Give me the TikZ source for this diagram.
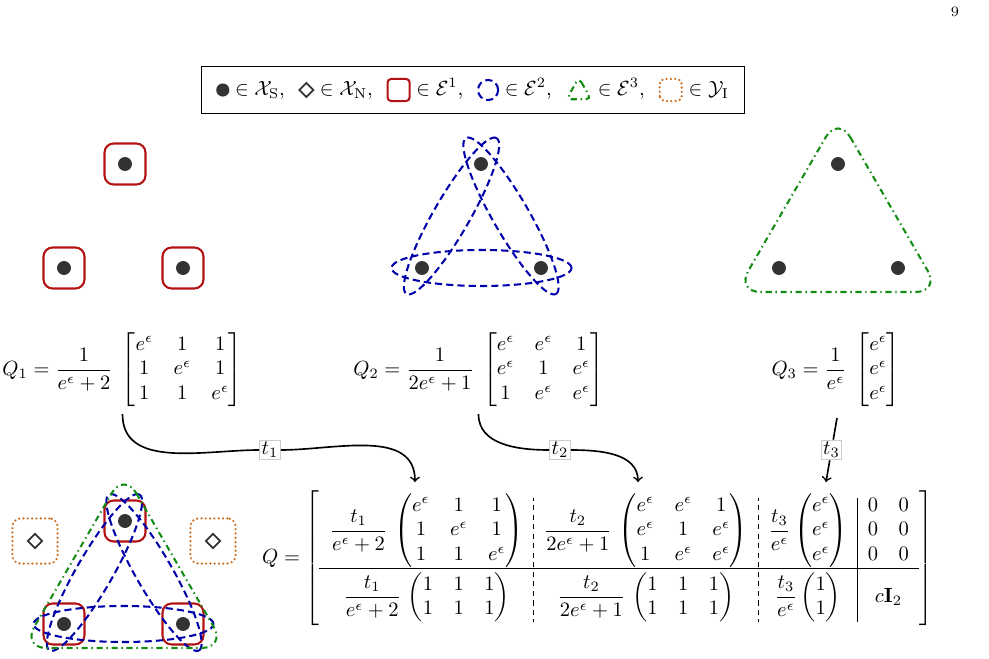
\documentclass[tikz,border=0pt]{standalone}
\usepackage{amsmath}
\usepackage{arydshln}
\usetikzlibrary{shapes.geometric,calc}

\definecolor{edgered}{RGB}{178,18,18}
\definecolor{edgeblue}{RGB}{0,0,170}
\definecolor{edgegreen}{RGB}{20,140,20}
\definecolor{isoorange}{RGB}{204,110,30}
\definecolor{dotgray}{RGB}{51,51,51}

\setlength{\dashlinedash}{2.5pt}
\setlength{\dashlinegap}{2pt}

\tikzset{
  vsens/.style={circle,fill=dotgray,inner sep=0pt,minimum size=6.8pt},
  vnon/.style={diamond,draw=dotgray,line width=0.9pt,inner sep=0pt,minimum size=7.3pt},
  eone/.style={draw=edgered,line width=1pt,rounded corners=4.5pt,minimum size=20pt,inner sep=0pt},
  etwo/.style={draw=edgeblue,line width=1pt,dash pattern=on 3.5pt off 2pt},
  ethree/.style={draw=edgegreen,line width=1pt,rounded corners=12pt,dash pattern=on 3pt off 1.8pt on 0.7pt off 1.8pt},
  iso/.style={draw=isoorange,line width=1.2pt,line cap=round,dash pattern=on 0pt off 2.1pt,rounded corners=4pt,minimum size=22pt,inner sep=0pt},
  tlab/.style={draw=gray!40,fill=white,inner sep=1pt},
  tarrow/.style={thick,->},
}

\begin{document}
\begin{tikzpicture}[x=0.4875pt,y=0.4875pt]
\useasboundingbox (0,0) rectangle (989,658);
\node at (955,646) {\scriptsize 9};

% legend
\node[draw,minimum width=264.7pt,minimum height=22.9pt] (legend) at (472.5,568.5) {$%
  \tikz[baseline=-0.6ex]\fill[dotgray] (0,0) circle (3.2pt); \in \mathcal{X}_{\mathrm{S}},\ \,
  \tikz[baseline=-0.6ex]\draw[dotgray,line width=0.9pt] (0,3.4pt)--(3.4pt,0)--(0,-3.4pt)--(-3.4pt,0)--cycle; \in \mathcal{X}_{\mathrm{N}},\ \,
  \tikz[baseline=-0.6ex]\draw[edgered,line width=1pt,rounded corners=1.8pt] (-5.4pt,-5.4pt) rectangle (5.4pt,5.4pt); \in \mathcal{E}^1,\ \,
  \tikz[baseline=-0.6ex]\draw[etwo] (0,0) circle (4.9pt); \in \mathcal{E}^2,\ \,
  \tikz[baseline=-0.6ex]\draw[ethree,rounded corners=2.5pt] (0,6pt)--(6pt,-4.5pt)--(-6pt,-4.5pt)--cycle; \in \mathcal{E}^3,\ \,
  \tikz[baseline=-0.6ex]\draw[iso,rounded corners=2.5pt] (-5.4pt,-5.4pt) rectangle (5.4pt,5.4pt); \in \mathcal{Y}_{\mathrm{I}}$};

% first order edges
\node[vsens] (a1) at (125,494) {};
\node[vsens] (a2) at (64,390) {};
\node[vsens] (a3) at (183,390) {};
\foreach \v in {a1,a2,a3}
  \node[eone] at (\v) {};

% second order edges
\node[vsens] (b1) at (481,494) {};
\node[vsens] (b2) at (422,390) {};
\node[vsens] (b3) at (541,390) {};
\draw[etwo,rotate around={60:(451.5,442)}] (451.5,442) ellipse [x radius=90,y radius=18];
\draw[etwo,rotate around={-60:(511,442)}] (511,442) ellipse [x radius=90,y radius=18];
\draw[etwo] (481.5,390) ellipse [x radius=90,y radius=18];

% third order edge
\node[vsens] (d1) at (838,494) {};
\node[vsens] (d2) at (779,390) {};
\node[vsens] (d3) at (898,390) {};
\draw[ethree] (838,542) -- (940,366) -- (736,366) -- cycle;

% mechanisms
\node (Q1) at (122.5,288) {$Q_1 = \dfrac{1}{e^\epsilon+2}\;\begin{bmatrix} e^\epsilon & 1 & 1\\ 1 & e^\epsilon & 1\\ 1 & 1 & e^\epsilon \end{bmatrix}$};
\node (Q2) at (478.5,288) {$Q_2 = \dfrac{1}{2e^\epsilon+1}\;\begin{bmatrix} e^\epsilon & e^\epsilon & 1\\ e^\epsilon & 1 & e^\epsilon\\ 1 & e^\epsilon & e^\epsilon \end{bmatrix}$};
\node (Q3) at (836,288) {$Q_3 = \dfrac{1}{e^\epsilon}\;\begin{bmatrix} e^\epsilon\\ e^\epsilon\\ e^\epsilon \end{bmatrix}$};

% combined mechanism
\node[anchor=west] (Q) at (255,100) {\delimitershortfall=0pt$Q = \left[\begin{array}{c:c:c|c}
  \dfrac{t_1}{e^\epsilon+2}\,\begin{pmatrix} e^\epsilon & 1 & 1\\ 1 & e^\epsilon & 1\\ 1 & 1 & e^\epsilon \end{pmatrix} &
  \dfrac{t_2}{2e^\epsilon+1}\,\begin{pmatrix} e^\epsilon & e^\epsilon & 1\\ e^\epsilon & 1 & e^\epsilon\\ 1 & e^\epsilon & e^\epsilon \end{pmatrix} &
  \dfrac{t_3}{e^\epsilon}\begin{pmatrix} e^\epsilon\\ e^\epsilon\\ e^\epsilon \end{pmatrix} &
  \begin{matrix} 0 & 0\\ 0 & 0\\ 0 & 0 \end{matrix}\\[2pt] \hline
  \noalign{\vskip 2pt}
  \dfrac{t_1}{e^\epsilon+2}\,\begin{pmatrix} 1 & 1 & 1\\ 1 & 1 & 1 \end{pmatrix} &
  \dfrac{t_2}{2e^\epsilon+1}\,\begin{pmatrix} 1 & 1 & 1\\ 1 & 1 & 1 \end{pmatrix} &
  \dfrac{t_3}{e^\epsilon}\begin{pmatrix} 1\\ 1 \end{pmatrix} &
  c\mathbf{I}_2
\end{array}\right]$};

% weights
\coordinate (s3) at (837,240);
\coordinate (e1) at (415,176);
\coordinate (e2) at (638,176);
\coordinate (e3) at (826,176);
\node[tlab] (t1) at (270,208) {$t_1$};
\node[tlab] (t2) at (560,208) {$t_2$};
\node[tlab] (t3) at ($(s3)!.5!(e3)$) {$t_3$};
\draw[thick] (Q1.south) to[out=-90,in=180] (t1);
\draw[tarrow] (t1) to[out=0,in=90] (e1);
\draw[thick] (Q2.south) to[out=-90,in=180] (t2);
\draw[tarrow] (t2) to[out=0,in=90] (e2);
\draw[thick] (s3) -- (t3);
\draw[tarrow] (t3) -- (e3);

% combined hypergraph
\node[vsens] (c1) at (125,137) {};
\node[vsens] (c2) at (64,34) {};
\node[vsens] (c3) at (183,34) {};
\foreach \v in {c1,c2,c3}
  \node[eone] at (\v) {};
\draw[etwo,rotate around={60:(94.5,85.5)}] (94.5,85.5) ellipse [x radius=90,y radius=18];
\draw[etwo,rotate around={-60:(154,85.5)}] (154,85.5) ellipse [x radius=90,y radius=18];
\draw[etwo] (123.5,34) ellipse [x radius=90,y radius=18];
\draw[ethree] (124,186) -- (226,10) -- (22,10) -- cycle;
\node[vnon] (n1) at (35,117) {};
\node[vnon] (n2) at (213,117) {};
\node[iso] at (n1) {};
\node[iso] at (n2) {};
\end{tikzpicture}
\end{document}
